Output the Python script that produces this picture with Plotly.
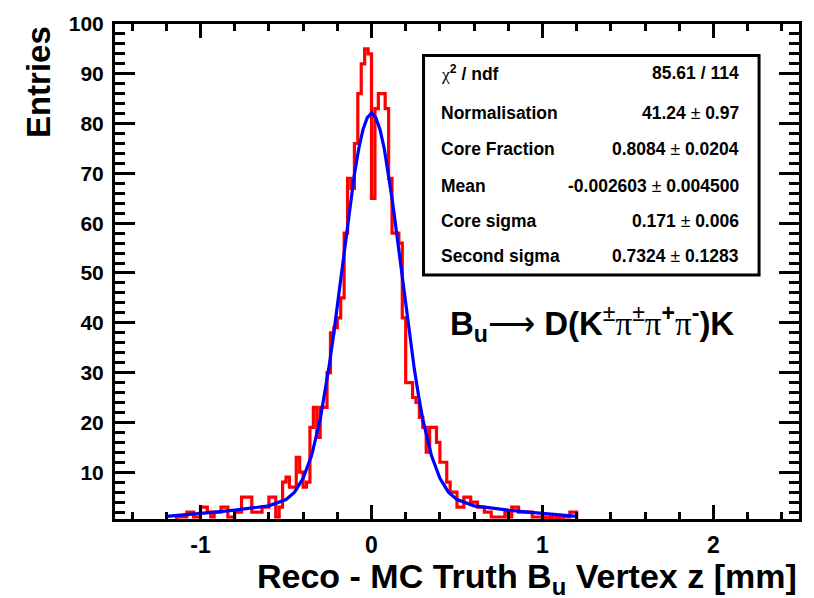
import plotly.graph_objects as go

# ---------------- data ----------------
hist_lo = -1.5
hist_hi = 2.5
bin_width = 0.02

# counts for bins whose lower edge runs from -1.20 up to 1.18 (step 0.02)
counts_left = [0, 0, 0, 1, 1, 1, 2, 2, 1, 1,          # -1.20 .. -1.02
               3, 3, 2, 1, 2, 2, 3, 3, 1, 1,          # -1.00 .. -0.82
               2, 2, 5, 5, 5, 2, 2, 2, 3, 3,          # -0.80 .. -0.62
               5, 5, 1, 3, 8, 9, 7, 7, 13, 10,        # -0.60 .. -0.42
               7, 8, 19, 23, 17, 23, 23, 30, 38, 39,  # -0.40 .. -0.22
               41, 45, 58, 69, 67, 76, 86, 92, 95, 94]  # -0.20 .. -0.02
counts_right = [65, 83, 86, 86, 83, 69, 58, 58, 56, 41,  # 0.00 .. 0.18
                28, 28, 25, 24, 21, 19, 14, 19, 19, 16,  # 0.20 .. 0.38
                12, 12, 8, 6, 6, 3, 3, 5, 5, 4,          # 0.40 .. 0.58
                4, 3, 3, 2, 2, 1, 1, 1, 1, 2,            # 0.60 .. 0.78
                1, 3, 3, 2, 2, 2, 2, 1, 1, 1,            # 0.80 .. 0.98
                1, 0, 1, 0, 1, 0, 1, 1, 2, 2]            # 1.00 .. 1.18
empty_below = [0] * 15   # -1.50 .. -1.22
empty_above = [0] * 65   # 1.20 .. 2.48
counts = empty_below + counts_left + counts_right + empty_above

# fitted curve
fit_x = [-1.2, -1.1, -1.0, -0.9, -0.8, -0.7, -0.6, -0.5, -0.45, -0.4, -0.35, -0.3,
         -0.275, -0.25, -0.225, -0.2, -0.175, -0.15, -0.125, -0.1, -0.075, -0.05,
         -0.025, 0.0, 0.025, 0.05, 0.075, 0.1, 0.125, 0.15, 0.175, 0.2, 0.225,
         0.25, 0.275, 0.3, 0.35, 0.4, 0.45, 0.5, 0.6, 0.7, 0.8, 0.9, 1.0, 1.1, 1.2]
fit_y = [1.12, 1.39, 1.70, 2.02, 2.37, 2.73, 3.24, 4.5, 6.0, 8.75, 13.4, 20.6,
         25.4, 30.8, 36.8, 43.4, 50.3, 57.2, 63.8, 69.8, 74.9, 78.8,
         81.2, 82.1, 81.2, 78.8, 74.9, 69.8, 63.8, 57.2, 50.3, 43.4, 36.8,
         30.8, 25.4, 20.6, 13.4, 8.75, 6.0, 4.5, 3.24, 2.73, 2.37, 2.02, 1.70, 1.39, 1.12]

x_ticks = [-1, 0, 1, 2]
y_ticks = [10, 20, 30, 40, 50, 60, 70, 80, 90, 100]

stat_labels = ["<span style='font-family:Liberation Serif'>χ</span><sup><b>2</b></sup><b> / ndf</b>",
               "<b>Normalisation</b>", "<b>Core Fraction</b>", "<b>Mean</b>",
               "<b>Core sigma</b>", "<b>Second sigma</b>"]
stat_values = ["<b>85.61 / 114</b>",
               "<b>41.24</b> ± <b>0.97</b>",
               "<b>0.8084</b> ± <b>0.0204</b>",
               "<b>-0.002603</b> ± <b>0.004500</b>",
               "<b>0.171</b> ± <b>0.006</b>",
               "<b>0.7324</b> ± <b>0.1283</b>"]

# ---------------- figure ----------------
n_bins = len(counts)
edges = [hist_lo + i * bin_width for i in range(n_bins + 1)]
step_x = edges
step_y = counts + [counts[-1]]

fig = go.Figure()
fig.add_trace(go.Scatter(x=step_x, y=step_y, mode="lines", line_shape="hv",
                         line=dict(color="#ff0000", width=3.2), showlegend=False,
                         hoverinfo="skip"))
fig.add_trace(go.Scatter(x=fit_x, y=fit_y, mode="lines",
                         line=dict(color="#0000ff", width=3.2), showlegend=False,
                         hoverinfo="skip"))

W, H = 814, 598
L, R, T, B = 115, 14, 18, 79
pw, ph = W - L - R, H - T - B

def px(X):
    return (X - L) / pw

def py(Y):
    return 1 - (Y - T) / ph

fig.update_layout(
    width=W, height=H,
    margin=dict(l=L, r=R, t=T, b=B, pad=0),
    paper_bgcolor="white", plot_bgcolor="white",
    font=dict(family="Liberation Sans, Arial, sans-serif", color="black"),
    showlegend=False,
)

fig.update_xaxes(
    range=[hist_lo, hist_hi], tickvals=x_ticks, ticktext=[str(v) for v in x_ticks],
    showgrid=False, zeroline=False,
    showline=True, linecolor="black", linewidth=3, mirror="allticks",
    ticks="inside", ticklen=14, tickwidth=3, tickcolor="black",
    minor=dict(dtick=0.2, tick0=0, ticks="inside", ticklen=7, tickwidth=3, tickcolor="black"),
    tickfont=dict(size=23, weight="bold", family="Liberation Sans"),
    ticklabelstandoff=3,
)
fig.update_yaxes(
    range=[0.6, 100], tickvals=y_ticks, ticktext=[str(v) for v in y_ticks],
    showgrid=False, zeroline=False,
    showline=True, linecolor="black", linewidth=3, mirror="allticks",
    ticks="inside", ticklen=20, tickwidth=3, tickcolor="black",
    minor=dict(dtick=2, tick0=0, ticks="inside", ticklen=10, tickwidth=3, tickcolor="black"),
    tickfont=dict(size=21, weight="bold", family="Liberation Sans"),
    ticklabelstandoff=4,
)

# axis titles (ROOT style, right/top aligned)
fig.add_annotation(xref="paper", yref="paper", x=1.0, y=py(579), xanchor="right", yanchor="middle",
                   text="<b>Reco - MC Truth B<sub>u</sub> Vertex z [mm]</b>", showarrow=False,
                   font=dict(size=34, family="Liberation Sans"))
fig.add_annotation(xref="paper", yref="paper", x=px(38), y=1.0, xanchor="center", yanchor="top",
                   text="<b>Entries</b>", textangle=-90, showarrow=False,
                   font=dict(size=33, family="Liberation Sans"))

# stats box
fig.add_shape(type="rect", xref="paper", yref="paper",
              x0=px(424), x1=px(760), y0=py(272), y1=py(50),
              line=dict(color="black", width=3), fillcolor="white", layer="above")
row_y = [68, 108, 145, 182, 217, 253]
for lab, val, yy in zip(stat_labels, stat_values, row_y):
    fig.add_annotation(xref="paper", yref="paper", x=px(439), y=py(yy), xanchor="left",
                       yanchor="middle", text=lab, showarrow=False,
                       font=dict(size=17.5, family="Liberation Sans"))
    fig.add_annotation(xref="paper", yref="paper", x=px(742), y=py(yy), xanchor="right",
                       yanchor="middle", text=val, showarrow=False,
                       font=dict(size=17.5, family="Liberation Sans"))

# decay label
serif = "<span style='font-family:Liberation Serif'>"
decay = ("<b>B<sub>u</sub></b>" + serif + "⟶</span> <b>D(K</b><sup>±</sup>"
         + serif + "π</span><sup>±</sup>" + serif + "π</span><sup><b>+</b></sup>"
         + serif + "π</span><sup><b>-</b></sup><b>)K</b>")
fig.add_annotation(xref="paper", yref="paper", x=px(593), y=py(321), xanchor="center",
                   yanchor="middle", text=decay, showarrow=False,
                   font=dict(size=33, family="Liberation Sans"))

fig.write_html("out.html")
